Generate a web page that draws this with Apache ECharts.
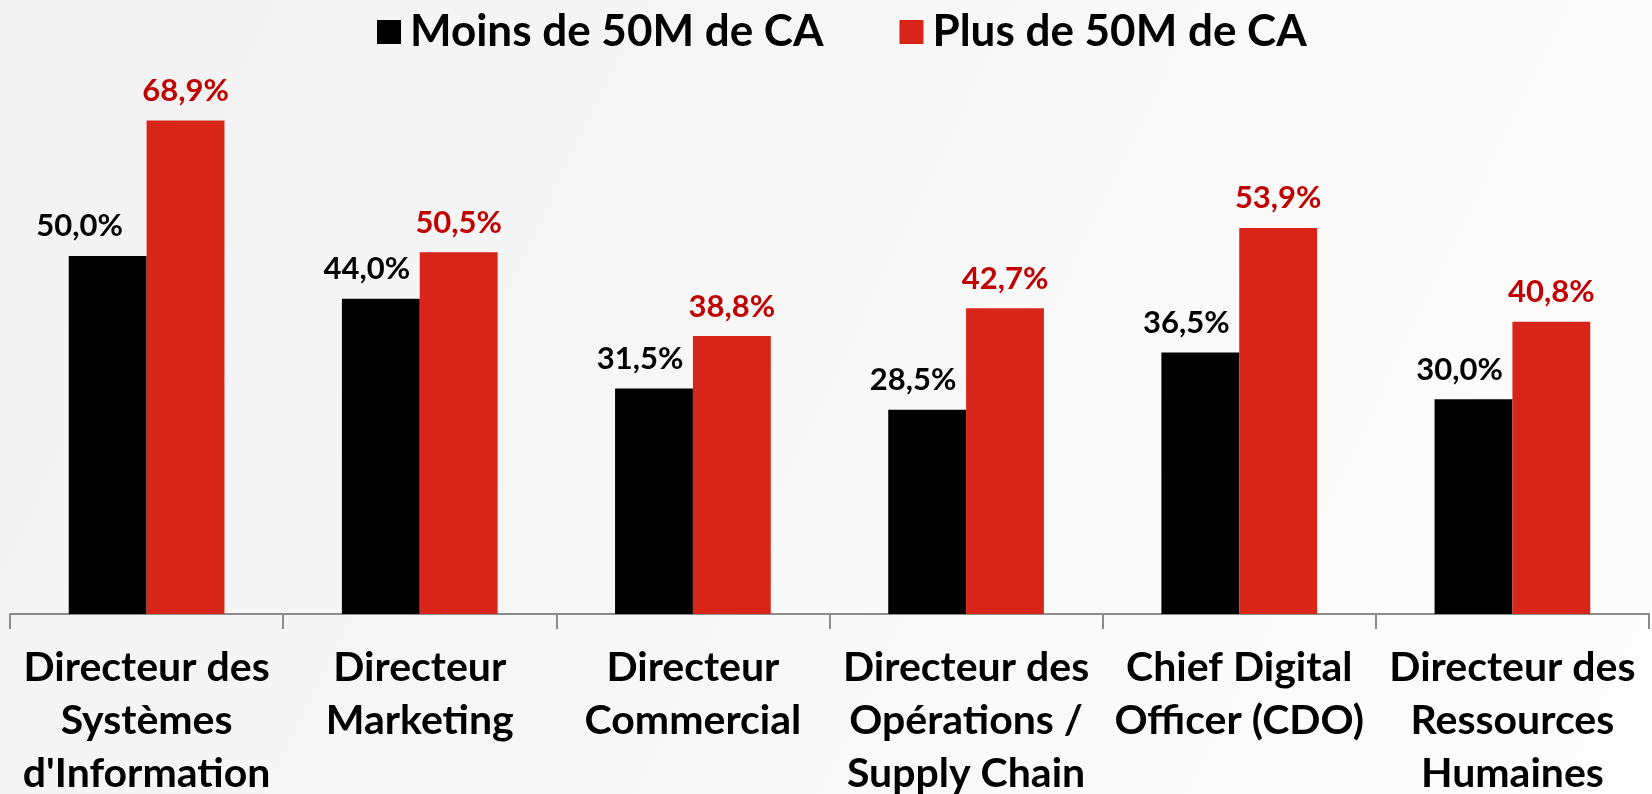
<!DOCTYPE html>
<html>
<head>
<meta charset="utf-8">
<script src="https://cdn.jsdelivr.net/npm/echarts@6/dist/echarts.min.js"></script>
<style>
html,body{margin:0;padding:0;}
#chart{width:1652px;height:794px;}
</style>
</head>
<body>
<div id="chart"></div>
<script>
const categories = [
  "Directeur des\nSystèmes\nd'Information",
  "Directeur\nMarketing",
  "Directeur\nCommercial",
  "Directeur des\nOpérations /\nSupply Chain",
  "Chief Digital\nOfficer (CDO)",
  "Directeur des\nRessources\nHumaines"
];
const seriesNames = ["Moins de 50M de CA", "Plus de 50M de CA"];
const moins50 = [50.0, 44.0, 31.5, 28.5, 36.5, 30.0];
const plus50 = [68.9, 50.5, 38.8, 42.7, 53.9, 40.8];

const FONT = 'Lato';
const fmt = p => p.value.toFixed(1).replace('.', ',') + '%';

// first black label sits further left in the original layout
const moinsData = moins50.map((v, i) => i === 0 ? {value: v, label: {offset: [-28, 0]}} : v);

const chart = echarts.init(document.getElementById('chart'));
chart.setOption({
  backgroundColor: {
    type: 'linear', x: 0, y: 0, x2: 1, y2: 1,
    colorStops: [{offset: 0, color: '#f2f2f2'}, {offset: 1, color: '#fdfdfd'}]
  },
  legend: {
    top: 5,
    left: 372,
    itemWidth: 24,
    itemHeight: 24,
    itemGap: 76,
    icon: 'rect',
    textStyle: {fontFamily: FONT, fontWeight: 'bold', fontSize: 44, color: '#000', padding: [0, 0, 0, 4]},
    data: seriesNames
  },
  grid: {left: 10, right: 3, top: 41, bottom: 180, containLabel: false, outerBoundsMode: 'none'},
  xAxis: {
    type: 'category',
    data: categories,
    axisLine: {lineStyle: {color: '#8c8c8c', width: 2}},
    axisTick: {show: true, length: 15, lineStyle: {color: '#8c8c8c', width: 2}},
    axisLabel: {
      interval: 0, margin: 27,
      fontFamily: FONT, fontWeight: 'bold', fontSize: 41, lineHeight: 53, color: '#000'
    }
  },
  yAxis: {
    type: 'value', min: 0, max: 80,
    show: false,
    splitLine: {show: false}
  },
  series: [
    {
      name: seriesNames[0], type: 'bar', data: moinsData,
      barGap: '0%', barCategoryGap: '43%',
      itemStyle: {color: '#000000'},
      label: {
        show: true, position: 'top', distance: 14, offset: [-14, 0],
        formatter: fmt, fontFamily: FONT, fontWeight: 'bold', fontSize: 31, color: '#000'
      }
    },
    {
      name: seriesNames[1], type: 'bar', data: plus50,
      barGap: '0%', barCategoryGap: '43%',
      itemStyle: {color: '#d8251a'},
      label: {
        show: true, position: 'top', distance: 14,
        formatter: fmt, fontFamily: FONT, fontWeight: 'bold', fontSize: 31, color: '#c00000'
      }
    }
  ]
});
</script>
</body>
</html>
